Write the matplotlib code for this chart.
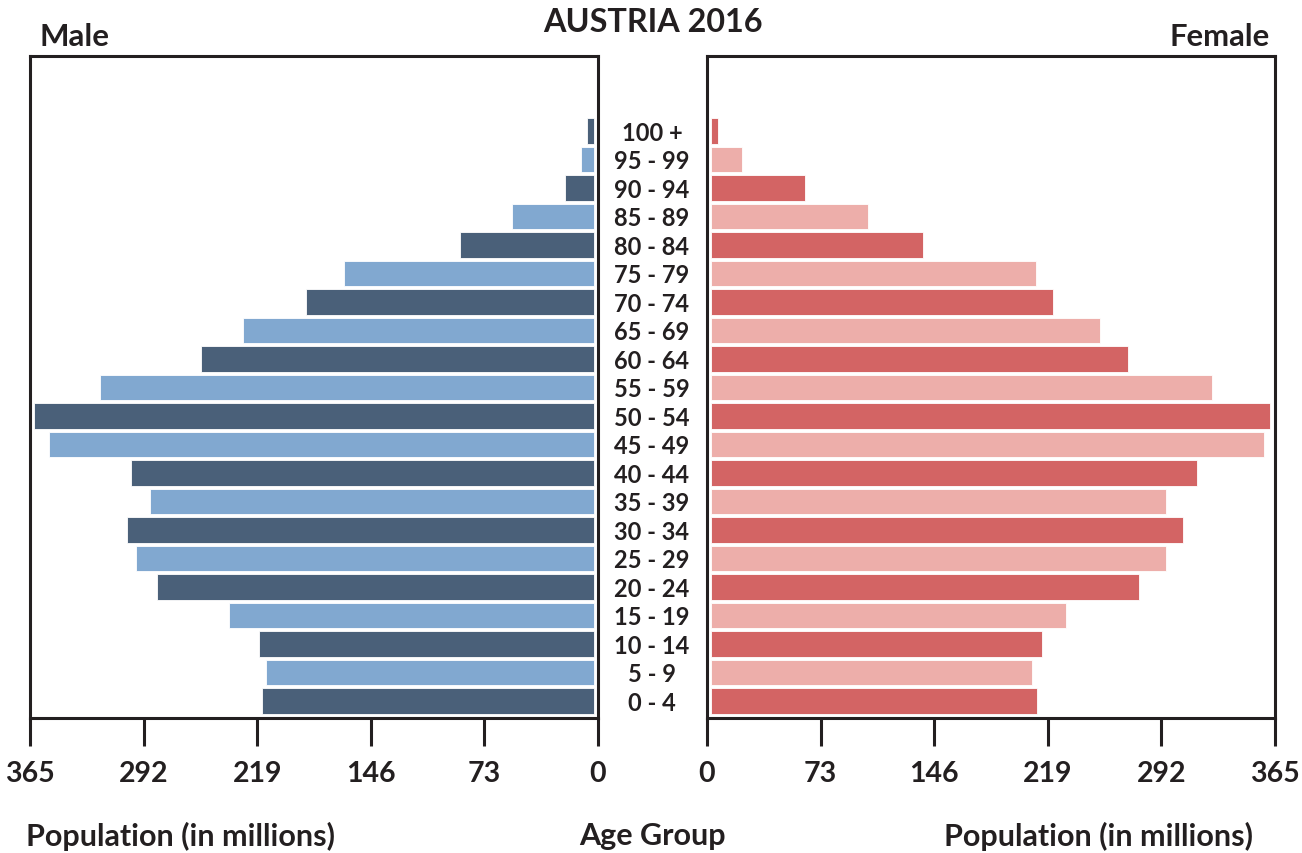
import matplotlib
matplotlib.use("Agg")
import matplotlib.pyplot as plt
import matplotlib.transforms as mtransforms
import numpy as np

# ---- data (thousands, labelled as in the original chart) ----
age_groups = ["0 - 4", "5 - 9", "10 - 14", "15 - 19", "20 - 24", "25 - 29", "30 - 34",
              "35 - 39", "40 - 44", "45 - 49", "50 - 54", "55 - 59", "60 - 64", "65 - 69",
              "70 - 74", "75 - 79", "80 - 84", "85 - 89", "90 - 94", "95 - 99", "100 +"]
male = [213.6, 211.1, 215.6, 234.9, 280.6, 294.7, 299.9, 285.1, 297.9, 350.1, 359.7,
        317.2, 252.3, 225.9, 185.3, 160.9, 86.2, 52.8, 18.7, 8.4, 4.5]
female = [209.8, 206.6, 213.0, 228.4, 275.4, 292.2, 303.7, 292.2, 312.1, 355.2, 359.1,
          321.7, 268.3, 250.3, 220.1, 209.1, 136.4, 101.0, 60.5, 19.9, 4.5]
tick_values = [0, 73, 146, 219, 292, 365]
title = "AUSTRIA 2016"

# ---- style ----
male_colors = ["#4a6079", "#81a8d0"]
female_colors = ["#d36464", "#edaeaa"]
FONT = ["Lato", "DejaVu Sans"]
TXT = "#231f20"
SPINE = "#231f20"
GAP = 2.5  # small visual gap between axis line and bar base

plt.rcParams["font.family"] = FONT
plt.rcParams["font.weight"] = "bold"

fig = plt.figure(figsize=(13.02, 8.54), dpi=100)
axL = fig.add_axes([30 / 1302, 135 / 854, 568 / 1302, 662 / 854])
axR = fig.add_axes([707 / 1302, 135 / 854, 568 / 1302, 662 / 854])

y = np.arange(len(age_groups))
mcol = [male_colors[i % 2] for i in range(len(y))]
fcol = [female_colors[i % 2] for i in range(len(y))]

axL.barh(y, male, left=GAP, height=0.9, color=mcol, edgecolor="white", linewidth=0.6)
axR.barh(y, female, left=GAP, height=0.9, color=fcol, edgecolor="white", linewidth=0.6)

axL.set_xlim(365, 0)
axR.set_xlim(0, 365)
for ax in (axL, axR):
    ax.set_ylim(-0.6, len(y) - 1 + 2.63)
    ax.set_yticks([])
    ax.set_xticks(tick_values)
    ax.set_xticklabels([str(v) for v in tick_values], fontsize=20.5, fontweight="bold", color=TXT)
    ax.tick_params(axis="x", length=20, width=2.2, color=SPINE, pad=10)
    for s in ax.spines.values():
        s.set_color(SPINE)
        s.set_linewidth(2.2)

# age group labels between the panels
label_tr = mtransforms.blended_transform_factory(fig.transFigure, axL.transData)
for yi, lab in zip(y, age_groups):
    fig.text(652 / 1302, yi - 0.05, lab, transform=label_tr, ha="center", va="center",
             fontsize=17, fontweight="bold", color=TXT)

fig.text(653 / 1302, 1 - 22 / 854, title, ha="center", va="center", fontsize=23.3,
         fontweight="bold", color=TXT)
fig.text(40 / 1302, 1 - 37 / 854, "Male", ha="left", va="center", fontsize=22.5,
         fontweight="bold", color=TXT)
fig.text(1270 / 1302, 1 - 37 / 854, "Female", ha="right", va="center", fontsize=22.3,
         fontweight="bold", color=TXT)
fig.text(181 / 1302, 1 - 836 / 854, "Population (in millions)", ha="center", va="center",
         fontsize=22, fontweight="bold", color=TXT)
fig.text(1098 / 1302, 1 - 836 / 854, "Population (in millions)", ha="center", va="center",
         fontsize=22, fontweight="bold", color=TXT)
fig.text(652 / 1302, 1 - 836 / 854, "Age Group", ha="center", va="center",
         fontsize=22, fontweight="bold", color=TXT)

fig.savefig("out.png", dpi=100, facecolor="white")
